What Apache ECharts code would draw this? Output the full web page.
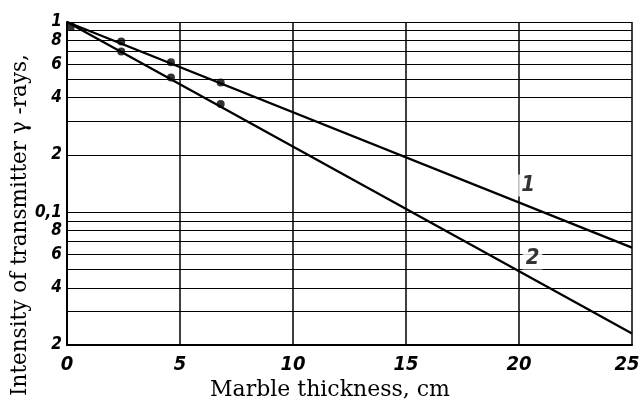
<!DOCTYPE html>
<html><head><meta charset="utf-8">
<script src="https://cdn.jsdelivr.net/npm/echarts@6/dist/echarts.min.js"></script>
<style>html,body{margin:0;padding:0;background:#fff}#c{width:639px;height:406px}</style>
</head><body><div id="c"></div>
<script>
const xTicks = [0, 5, 10, 15, 20, 25];
const curve1 = [[0, 1], [25, 0.065]];
const curve2 = [[0, 1], [25, 0.023]];
const points1 = [[2.4, 0.79], [4.6, 0.615], [6.8, 0.48]];
const points2 = [[2.4, 0.70], [4.6, 0.51], [6.8, 0.37]];
const originPoint = [[0.15, 0.95]];
const yGridValues = [1, 0.9, 0.8, 0.7, 0.6, 0.5, 0.4, 0.3, 0.2, 0.1, 0.09, 0.08, 0.07, 0.06, 0.05, 0.04, 0.03, 0.02];
const yLabelValues = [1, 0.8, 0.6, 0.4, 0.2, 0.1, 0.08, 0.06, 0.04, 0.02];
const yLabelTexts = ['1', '8', '6', '4', '2', '0,1', '8', '6', '4', '2'];
const curveLabels = [{ name: '1', value: [20.4, 0.138] }, { name: '2', value: [20.6, 0.057] }];
const xTitle = 'Marble thickness, cm';
const yTitle = 'Intensity of transmitter γ -rays,';

const tickFont = "'Liberation Sans Narrow', 'DejaVu Sans Condensed', sans-serif";
const xMax = xTicks[xTicks.length - 1];
const chart = echarts.init(document.getElementById('c'), null, { renderer: 'canvas' });
chart.setOption({
  animation: false,
  backgroundColor: '#fff',
  grid: { left: 67, right: 7, top: 22, bottom: 61, outerBoundsMode: 'none', containLabel: false },
  xAxis: {
    type: 'value', min: xTicks[0], max: xMax, interval: 5,
    axisLine: { show: true, lineStyle: { color: '#000', width: 2 } },
    axisTick: { show: false },
    axisLabel: {
      color: '#000', fontFamily: tickFont, fontStyle: 'italic', fontWeight: 'bold', fontSize: 20, margin: 10,
      formatter: v => v === xMax ? '{r|' + v + '}' : String(v),
      rich: { r: { color: '#000', fontFamily: tickFont, fontStyle: 'italic', fontWeight: 'bold', fontSize: 20, padding: [0, 10, 0, 0] } }
    },
    splitLine: { show: true, lineStyle: { color: '#000', width: 1.5 } }
  },
  yAxis: {
    type: 'log', logBase: 10, min: 0.02, max: 1,
    axisLine: { show: true, lineStyle: { color: '#000', width: 2 } },
    axisTick: { show: false },
    axisLabel: { show: false },
    splitLine: { show: false },
    minorSplitLine: { show: false }
  },
  series: [
    {
      type: 'line', data: curve1, showSymbol: false, symbol: 'none',
      lineStyle: { color: '#000', width: 2.3 }, z: 3,
      markLine: {
        silent: true, symbol: ['none', 'none'], z: 1,
        lineStyle: { color: '#000', width: 1.2, type: 'solid' },
        label: { show: false },
        data: yGridValues.map(v => {
          const i = yLabelValues.indexOf(v);
          return {
            yAxis: v,
            label: i >= 0 ? {
              show: true, position: 'start', formatter: yLabelTexts[i], distance: 5,
              color: '#000', fontFamily: tickFont, fontStyle: 'italic', fontWeight: 'bold', fontSize: 17
            } : { show: false }
          };
        })
      }
    },
    { type: 'line', data: curve2, showSymbol: false, symbol: 'none', lineStyle: { color: '#000', width: 2.3 }, z: 3 },
    { type: 'scatter', data: points1, symbol: 'circle', symbolSize: 8, itemStyle: { color: '#000' }, z: 4 },
    { type: 'scatter', data: points2, symbol: 'circle', symbolSize: 8, itemStyle: { color: '#000' }, z: 4 },
    { type: 'scatter', data: originPoint, symbol: 'rect', symbolSize: 8, itemStyle: { color: '#000' }, z: 4 },
    {
      type: 'scatter', data: curveLabels, symbolSize: 0, z: 5,
      label: {
        show: true, position: 'inside', formatter: '{b}', color: '#000',
        fontFamily: tickFont, fontStyle: 'italic', fontWeight: 'bold', fontSize: 22,
        backgroundColor: '#fff', padding: [0, 3]
      }
    }
  ],
  graphic: [
    { type: 'text', x: 330, y: 390, style: { text: xTitle, fill: '#000', font: '22px "DejaVu Serif"', align: 'center', verticalAlign: 'middle' } },
    { type: 'text', x: 20, y: 225, rotation: Math.PI / 2, style: { text: yTitle, fill: '#000', font: '21.5px "DejaVu Serif"', align: 'center', verticalAlign: 'middle' } }
  ]
});
</script>
</body></html>
